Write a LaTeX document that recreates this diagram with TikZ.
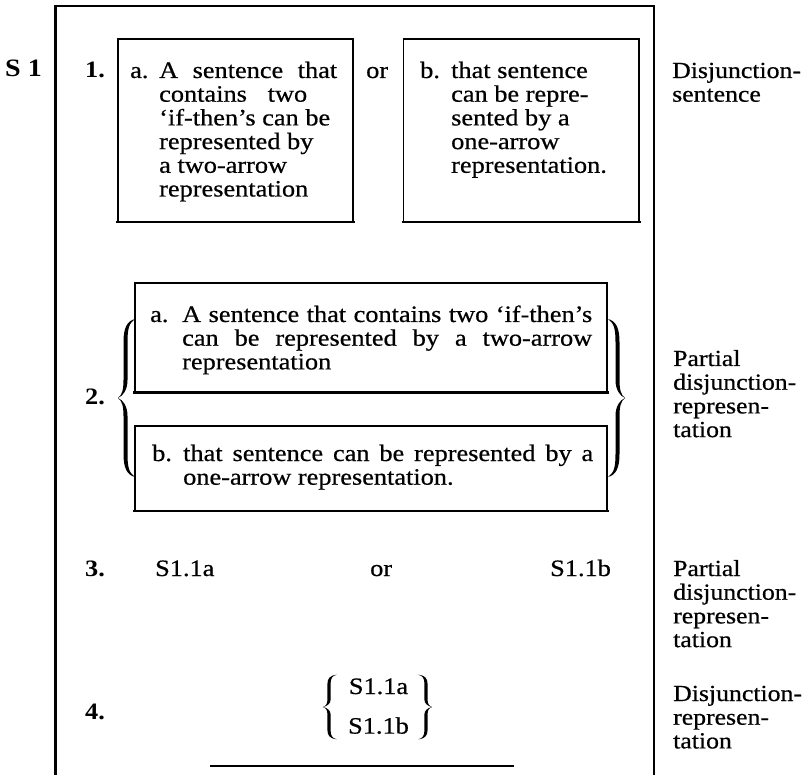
\documentclass[tikz,border=0pt]{standalone}
\usepackage{fontspec}
\setmainfont[FakeStretch=1.12, UprightFeatures={FakeBold=0.6}]{Liberation Serif}
\begin{document}
\begin{tikzpicture}[x=1pt,y=-1pt,
  frame/.style={line width=2.2pt},
  boxnode/.style={draw, line width=1.3pt, anchor=north west, inner sep=0pt, outer sep=0pt},
  boxfoot/.style={line width=2.4pt},
  txt/.style={anchor=base west, inner sep=0pt, font=\fontsize{23.5}{23.7}\selectfont},
  num/.style={anchor=base west, inner sep=0pt, font=\fontsize{23.5}{23.7}\selectfont\bfseries},
  ctr/.style={anchor=base, inner sep=0pt, font=\fontsize{23.5}{23.7}\selectfont},
  lbl/.style={anchor=base west, inner sep=0pt, font=\fontsize{23}{23.7}\selectfont},
  bigbrace/.pic={
    \fill (0,0) .. controls (4,-3) and (5.5,-8) .. (5.5,-18) -- (5.5,-56)
      .. controls (5.5,-70) and (9,-77) .. (17,-79)
      .. controls (11,-75) and (9.5,-69) .. (9.5,-56) -- (9.5,-18)
      .. controls (9.5,-8) and (5,-2) .. (0,0) -- cycle;
    \fill (0,0) .. controls (4,3) and (5.5,8) .. (5.5,18) -- (5.5,56)
      .. controls (5.5,70) and (9,77) .. (17,79)
      .. controls (11,75) and (9.5,69) .. (9.5,56) -- (9.5,18)
      .. controls (9.5,8) and (5,2) .. (0,0) -- cycle;
  }
]
\useasboundingbox (0,0) rectangle (806,775);

% outer frame
\coordinate (fbl) at (55.5,775);
\coordinate (ftl) at (55.5,6);
\coordinate (ftr) at (654,6);
\coordinate (fbr) at (654,775);
\draw[frame] (fbl) -- (ftl) -- (ftr) -- (fbr);

% row 1
\node[num, font=\fontsize{25}{25}\selectfont\bfseries] (s1) at (5,77) {S 1};
\node[num] (n1) at (85,78) {1.};
\node[boxnode, minimum width=235pt, minimum height=183pt] (box1a) at (118,39) {};
\draw[boxfoot] ([xshift=-2pt]box1a.south west) -- ([xshift=2pt]box1a.south east);
\node[txt] (t1a) at (130,78) {\begin{tabular}[t]{@{}l@{}l@{}}
\makebox[29pt][l]{a.} & \makebox[178pt][s]{A sentence that}\\
 & \makebox[148pt][s]{contains two}\\
 & ‘if-then’s can be\\
 & represented by\\
 & a two-arrow\\
 & representation
\end{tabular}};
\node[txt] (or1) at (366,78) {or};
\node[boxnode, minimum width=235.5pt, minimum height=183pt] (box1b) at (403.5,39) {};
\draw[boxfoot] ([xshift=-2pt]box1b.south west) -- ([xshift=2pt]box1b.south east);
\node[txt] (t1b) at (420,78) {\begin{tabular}[t]{@{}l@{}l@{}}
\makebox[31pt][l]{b.} & that sentence\\
 & can be repre-\\
 & sented by a\\
 & one-arrow\\
 & representation.
\end{tabular}};
\node[lbl] (lab1) at (672,78) {\begin{tabular}[t]{@{}l@{}}Disjunction-\\sentence\end{tabular}};

% row 2
\node[num] (n2) at (85,405) {2.};
\node[boxnode, minimum width=472pt, minimum height=109.5pt] (box2a) at (135,283) {};
\draw[boxfoot] ([xshift=-2pt]box2a.south west) -- ([xshift=2pt]box2a.south east);
\node[boxnode, minimum width=472pt, minimum height=85pt] (box2b) at (135,426) {};
\draw[boxfoot] ([xshift=-2pt]box2b.south west) -- ([xshift=2pt]box2b.south east);
\node[txt] (t2a) at (150,322) {\begin{tabular}[t]{@{}l@{}l@{}}
\makebox[32pt][l]{a.} & \makebox[410pt][s]{A sentence that contains two ‘if-then’s}\\
 & \makebox[410pt][s]{can be represented by a two-arrow}\\
 & representation
\end{tabular}};
\node[txt] (t2b) at (152,461) {\begin{tabular}[t]{@{}l@{}l@{}}
\makebox[31pt][l]{b.} & \makebox[410pt][s]{that sentence can be represented by a}\\
 & one-arrow representation.
\end{tabular}};
\pic (brL) at (118,398) {bigbrace};
\pic[xscale=-1] (brR) at (625,398) {bigbrace};
\node[lbl] (lab2) at (673,366) {\begin{tabular}[t]{@{}l@{}}Partial\\disjunction-\\represen-\\tation\end{tabular}};

% row 3
\node[num] (n3) at (85,576) {3.};
\node[txt] (s3a) at (155,576) {S1.1a};
\node[txt] (or3) at (370,576) {or};
\node[txt] (s3b) at (550,576) {S1.1b};
\node[lbl] (lab3) at (673,576) {\begin{tabular}[t]{@{}l@{}}Partial\\disjunction-\\represen-\\tation\end{tabular}};

% row 4
\node[num] (n4) at (85,719) {4.};
\node[ctr] (s4a) at (378.5,694) {S1.1a};
\node[ctr] (s4b) at (378.5,733.6) {S1.1b};
\pic[xscale=0.8, yscale=0.41] (sbL) at (323,707) {bigbrace};
\pic[xscale=-0.8, yscale=0.41] (sbR) at (432,707) {bigbrace};
\node[lbl] (lab4) at (673,701) {\begin{tabular}[t]{@{}l@{}}Disjunction-\\represen-\\tation\end{tabular}};

% short rule at the bottom
\coordinate (rl) at (210,766);
\coordinate (rr) at (514,766);
\draw[line width=1.8pt] (rl) -- (rr);
\end{tikzpicture}
\end{document}
